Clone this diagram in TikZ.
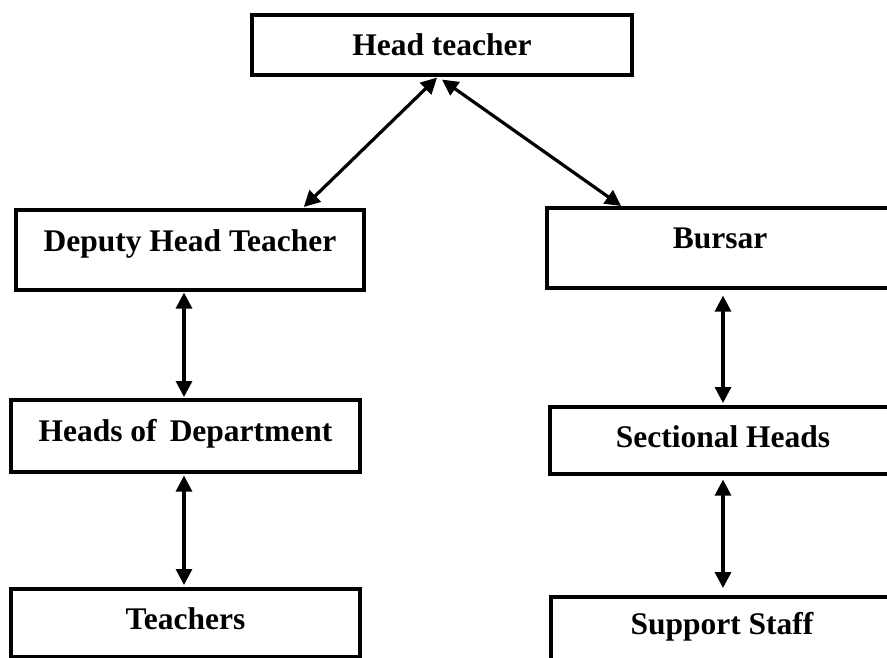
\documentclass[tikz,border=0pt]{standalone}
\usepackage{fontspec}
\setmainfont{Liberation Serif}
\usetikzlibrary{arrows.meta}
\begin{document}
\begin{tikzpicture}[x=1pt,y=-1pt,
  box/.style={draw, line width=3.6pt, rectangle, inner xsep=0pt, inner ysep=0pt,
    anchor=north, font=\fontsize{31.5}{37}\selectfont\bfseries},
  arr/.style={line width=3.2pt, {Triangle[length=16pt,width=16pt]}-{Triangle[length=16pt,width=16pt]}}]
\useasboundingbox (0,0) rectangle (887,657);
\clip (0,0) rectangle (887,657);
\node[box, minimum width=380pt, text height=41pt, text depth=19pt] (head) at (442,13) {Head teacher};
\node[box, minimum width=348pt, text height=42pt, text depth=38pt] (deputy) at (190,208) {Deputy Head Teacher};
\node[box, minimum width=346pt, text height=41pt, text depth=39pt] (bursar) at (720,206) {Bursar};
\node[box, minimum width=349pt, text height=42pt, text depth=30pt] (hod) at (185.5,398) {Heads of\, Department};
\node[box, minimum width=346pt, text height=41pt, text depth=26pt] (sect) at (723,405) {Sectional Heads};
\node[box, minimum width=349pt, text height=41pt, text depth=27pt] (teach) at (185.5,587) {Teachers};
\node[box, minimum width=342pt, text height=38pt, text depth=40pt] (supp) at (722,595) {Support Staff};
\draw[arr] ([xshift=-5pt,yshift=-1pt]head.south) -- ([xshift=-62pt,yshift=1pt]deputy.north east);
\draw[arr] ([yshift=-3pt]head.south) -- ([xshift=76pt]bursar.north west);
\draw[arr] ([xshift=-6pt,yshift=-1pt]deputy.south) -- ([xshift=-1.5pt,yshift=1pt]hod.north);
\draw[arr] ([xshift=-1.5pt,yshift=-2pt]hod.south) -- ([xshift=-1.5pt,yshift=2pt]teach.north);
\draw[arr] ([xshift=3pt,yshift=-6pt]bursar.south) -- ([xshift=0pt,yshift=2pt]sect.north);
\draw[arr] ([xshift=0pt,yshift=-4pt]sect.south) -- ([xshift=1pt,yshift=7pt]supp.north);
\end{tikzpicture}
\end{document}
